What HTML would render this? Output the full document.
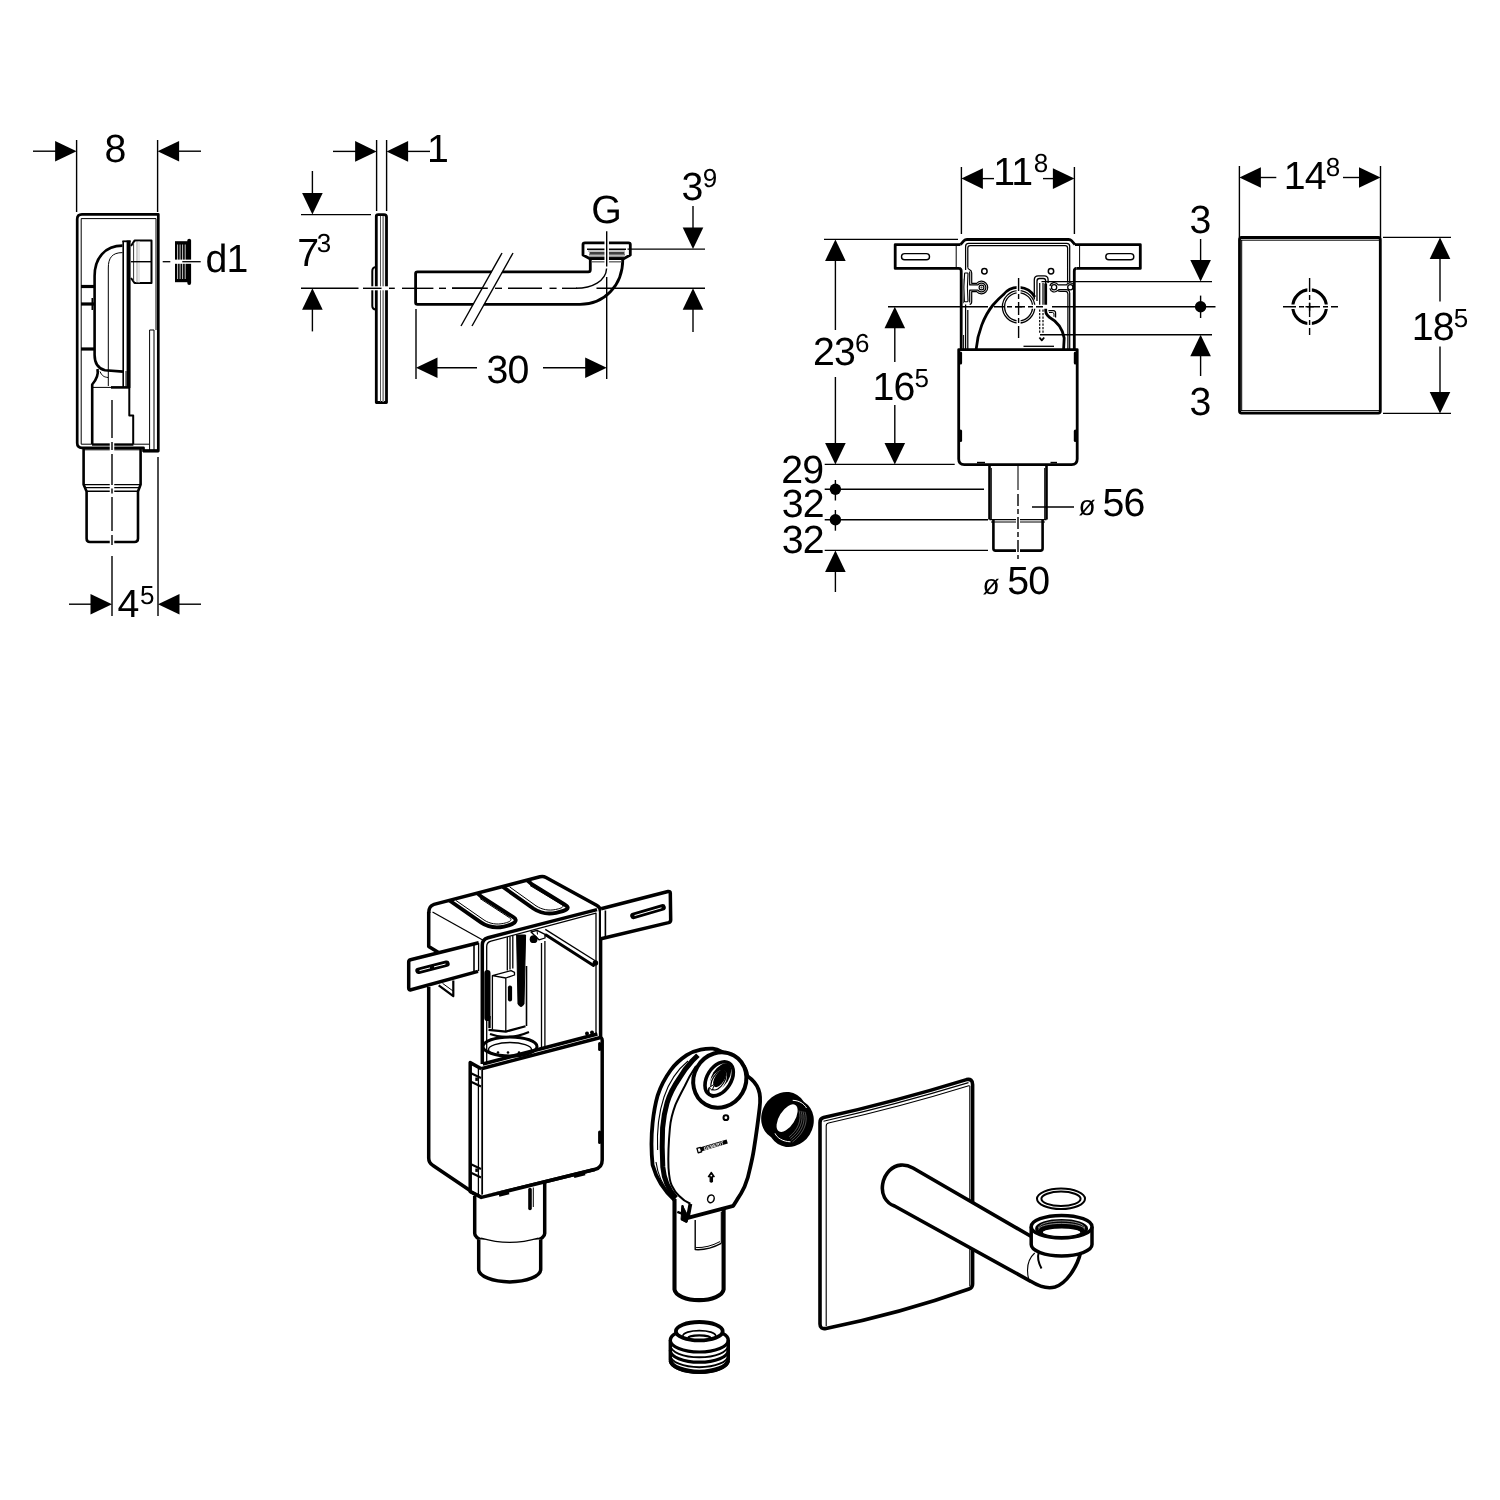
<!DOCTYPE html>
<html lang="en"><head><meta charset="utf-8"><title>Dimensional drawing</title>
<style>
html,body{margin:0;padding:0;background:#fff;}
body{width:1500px;height:1500px;overflow:hidden;}
svg{display:block;will-change:transform;}
svg text{text-rendering:geometricPrecision;font-family:"Liberation Sans",sans-serif;fill:#000;stroke:none;}
</style></head><body>
<svg width="1500" height="1500" viewBox="0 0 1500 1500" fill="none" stroke="#000" stroke-linecap="butt" stroke-linejoin="round">
<rect x="0" y="0" width="1500" height="1500" fill="#fff" stroke="none"/>
<!-- partA -->
<g>
<line x1="76.6" y1="140" x2="76.6" y2="212" stroke-width="1.4" />
<line x1="157.6" y1="140" x2="157.6" y2="212" stroke-width="1.4" />
<line x1="33" y1="151.2" x2="56" y2="151.2" stroke-width="1.4" />
<polygon points="76.6,151.2 55.1,140.9 55.1,161.5" fill="#000" stroke="none"/>
<polygon points="157.6,151.2 179.1,140.9 179.1,161.5" fill="#000" stroke="none"/>
<line x1="178" y1="151.2" x2="201" y2="151.2" stroke-width="1.4" />
<text x="104.6" y="161.6" font-size="39.3" text-anchor="start" letter-spacing="-0.85" >8</text>
<path d="M158.3,214.3 H82 Q77.2,214.3 77.2,219 V443 Q77.2,447.8 82,447.8 H143.5 V451 H158.3 Z" stroke-width="2.7" />
<path d="M156,218.6 H81.2 V444.2 H149" stroke-width="1" />
<line x1="156" y1="218.6" x2="156" y2="330" stroke-width="1" />
<line x1="149.6" y1="330" x2="149.6" y2="450" stroke-width="1" />
<line x1="154" y1="330" x2="154" y2="450" stroke-width="1" />
<line x1="149.6" y1="330" x2="154" y2="330" stroke-width="1" />
<line x1="143" y1="450.8" x2="158.6" y2="450.8" stroke-width="3.2" />
<line x1="81" y1="286.5" x2="94" y2="286.5" stroke-width="3.2" />
<line x1="81" y1="304" x2="94" y2="304" stroke-width="3.2" />
<line x1="81" y1="349" x2="94" y2="349" stroke-width="3.2" />
<line x1="92.3" y1="298" x2="92.3" y2="310" stroke-width="1.6" />
<path d="M122.5,245.6 C105,245.6 94.6,258 94.6,276 V355 C94.6,364 98,368.5 105,370.3 L123,371.6" stroke-width="2.6" />
<path d="M122.5,252.6 C112,252.6 108.3,258 108.3,268 V386" stroke-width="1" />
<line x1="123.2" y1="241" x2="123.2" y2="387" stroke-width="1.6" />
<line x1="128.6" y1="240.5" x2="128.6" y2="388" stroke-width="4" />
<line x1="122.4" y1="241.3" x2="130.6" y2="241.3" stroke-width="1.8" />
<line x1="126" y1="371" x2="126" y2="387" stroke-width="1" />
<path d="M131,246 L134.5,240.6 H151.5 V283 H134.5 L131,278" stroke-width="2" />
<line x1="133.6" y1="243" x2="133.6" y2="281" stroke-width="1" stroke="#333"/>
<line x1="137" y1="241" x2="137" y2="283" stroke-width="1" stroke="#999"/>
<line x1="139" y1="241" x2="139" y2="283" stroke-width="1" stroke="#ccc"/>
<line x1="131" y1="261.7" x2="151.5" y2="261.7" stroke-width="1.4" />
<line x1="162.7" y1="261.7" x2="170.3" y2="261.7" stroke-width="1.3" />
<rect x="175" y="241.2" width="13.2" height="41" stroke-width="0" fill="#000" stroke="none"/>
<line x1="177.6" y1="244.5" x2="177.6" y2="279" stroke-width="0.9" stroke="#ddd"/>
<line x1="180.1" y1="244.5" x2="180.1" y2="279" stroke-width="0.9" stroke="#ddd"/>
<line x1="182.6" y1="244.5" x2="182.6" y2="279" stroke-width="0.9" stroke="#ddd"/>
<line x1="185.2" y1="244.5" x2="185.2" y2="279" stroke-width="0.9" stroke="#ddd"/>
<line x1="189.2" y1="240.6" x2="189.2" y2="283" stroke-width="3.8" stroke-linecap="round"/>
<line x1="174" y1="261.7" x2="192" y2="261.7" stroke-width="4.2" stroke="#fff"/>
<line x1="182.3" y1="261.7" x2="200.7" y2="261.7" stroke-width="1.3" />
<text x="205.4" y="272.3" font-size="39.3" text-anchor="start" letter-spacing="-0.85" >d1</text>
<path d="M97.5,369 C98.5,374 97,379 92.2,384.5 V444" stroke-width="2.6" />
<path d="M100,371.5 C102,376 104,377 108,377.5" stroke-width="1" />
<line x1="92" y1="387.4" x2="112" y2="387.4" stroke-width="1" />
<line x1="111" y1="387.4" x2="129" y2="387.4" stroke-width="2.6" />
<path d="M129.3,388 V415.6 H133.2 V444" stroke-width="2" />
<line x1="92" y1="444.6" x2="133.4" y2="444.6" stroke-width="2.2" />
<path d="M83.6,449 V484.5 L86.6,491.5 V538.5 Q86.6,542 90,542 H134.5 Q138,542 138,538.5 V491.5 L140.6,484.5 V449" stroke-width="2.6" />
<line x1="83.6" y1="449.8" x2="141" y2="449.8" stroke-width="1" />
<line x1="83.6" y1="484.6" x2="140.6" y2="484.6" stroke-width="1.4" />
<line x1="85" y1="487.6" x2="139.4" y2="487.6" stroke-width="1.4" />
<line x1="86.6" y1="491.2" x2="138" y2="491.2" stroke-width="1.4" />
<line x1="112" y1="436" x2="112" y2="560" stroke-width="4.5" stroke="#fff"/>
<line x1="112" y1="400" x2="112" y2="438" stroke-width="1.4" />
<line x1="112" y1="442" x2="112" y2="450" stroke-width="1.4" />
<line x1="112" y1="454" x2="112" y2="485" stroke-width="1.4" />
<line x1="112" y1="488.5" x2="112" y2="493.5" stroke-width="1.4" />
<line x1="112" y1="497" x2="112" y2="531" stroke-width="1.4" />
<line x1="112" y1="535" x2="112" y2="545" stroke-width="1.4" />
<line x1="112" y1="556" x2="112" y2="616" stroke-width="1.4" />
<line x1="158" y1="457" x2="158" y2="616" stroke-width="1.4" />
<line x1="69" y1="604.2" x2="92" y2="604.2" stroke-width="1.4" />
<polygon points="112,604.2 90.5,593.9 90.5,614.5" fill="#000" stroke="none"/>
<polygon points="158,604.2 179.5,593.9 179.5,614.5" fill="#000" stroke="none"/>
<line x1="178" y1="604.2" x2="201" y2="604.2" stroke-width="1.4" />
<text x="117.6" y="617.3" font-size="39.3" letter-spacing="-0.85">4<tspan letter-spacing="0" font-size="26" dy="-13" dx="1.5">5</tspan></text>
</g>
<!-- partB -->
<g>
<line x1="376.6" y1="140" x2="376.6" y2="211" stroke-width="1.4" />
<line x1="386.6" y1="140" x2="386.6" y2="211" stroke-width="1.4" />
<line x1="333" y1="151.4" x2="356" y2="151.4" stroke-width="1.4" />
<polygon points="376.6,151.4 355.1,141.1 355.1,161.7" fill="#000" stroke="none"/>
<polygon points="386.6,151.4 408.1,141.1 408.1,161.7" fill="#000" stroke="none"/>
<line x1="407" y1="151.4" x2="430" y2="151.4" stroke-width="1.4" />
<text x="427" y="162.3" font-size="39.3" text-anchor="start" letter-spacing="-0.85" >1</text>
<path d="M376.3,402.5 V216.5 Q376.3,214.6 378.2,214.6 H384 Q386.5,214.6 386.5,217 V402.5 Z" stroke-width="2.8" />
<line x1="380.5" y1="216" x2="380.5" y2="402" stroke-width="1" stroke="#555"/>
<line x1="383.2" y1="216" x2="383.2" y2="402" stroke-width="1.8" stroke="#888"/>
<path d="M376,267 Q372.3,267.3 372.3,271 V306 Q372.3,309.3 376,309.6" stroke-width="2" />
<line x1="301" y1="214.6" x2="371" y2="214.6" stroke-width="1.4" />
<line x1="312.4" y1="171" x2="312.4" y2="194" stroke-width="1.4" />
<polygon points="312.4,214.6 302.1,193.1 322.7,193.1" fill="#000" stroke="none"/>
<polygon points="312.4,288.3 302.1,309.8 322.7,309.8" fill="#000" stroke="none"/>
<line x1="312.4" y1="308" x2="312.4" y2="331.4" stroke-width="1.4" />
<text x="297.2" y="265.5" font-size="39.3" letter-spacing="-0.85">7<tspan letter-spacing="0" font-size="26" dy="-14" dx="-1.5">3</tspan></text>
<line x1="370" y1="288.3" x2="392" y2="288.3" stroke-width="4" stroke="#fff"/>
<line x1="301" y1="288.3" x2="358.5" y2="288.3" stroke-width="1.4" />
<line x1="363" y1="288.3" x2="381.5" y2="288.3" stroke-width="1.4" />
<line x1="389" y1="288.3" x2="394.8" y2="288.3" stroke-width="1.4" />
<line x1="402" y1="288.3" x2="433.4" y2="288.3" stroke-width="1.4" />
<line x1="439" y1="288.3" x2="446" y2="288.3" stroke-width="1.4" />
<line x1="452" y1="288.3" x2="487.8" y2="288.3" stroke-width="1.4" />
<line x1="495" y1="288.3" x2="502" y2="288.3" stroke-width="1.4" />
<line x1="508" y1="288.3" x2="542" y2="288.3" stroke-width="1.4" />
<line x1="549.5" y1="288.3" x2="556.6" y2="288.3" stroke-width="1.4" />
<line x1="562" y1="288.3" x2="577" y2="288.3" stroke-width="1.4" />
<path d="M576,288.3 C592,288.3 606,281 606.6,268.5" stroke-width="1.4" />
<path d="M590.3,258.5 V269.7 Q590.3,271.8 588.3,271.8 H417.5 Q415.6,271.8 415.6,273.6 V302.6 Q415.6,304.4 417.5,304.4 H580 C604,304.4 622.8,286 622.8,259" stroke-width="2.8" />
<path d="M507.5,253 L466.5,326" stroke-width="9" stroke="#fff"/>
<line x1="502" y1="253" x2="461" y2="326" stroke-width="1.4" />
<line x1="513" y1="253" x2="472" y2="326" stroke-width="1.4" />
<line x1="452" y1="288.3" x2="487.8" y2="288.3" stroke-width="1.4" />
<path d="M583,244.5 Q583,242.8 585,242.8 H628.4 Q630.3,242.8 630.3,244.6 V255 L624,258.5 H589.5 L583,255 Z" stroke-width="2.8" />
<line x1="587" y1="249.3" x2="626" y2="249.3" stroke-width="1.4" />
<line x1="588" y1="251" x2="625" y2="251" stroke-width="1" stroke="#888"/>
<line x1="589.5" y1="253" x2="624.5" y2="253" stroke-width="1.4" />
<line x1="589" y1="254.8" x2="625" y2="254.8" stroke-width="1.6" stroke="#777"/>
<line x1="589" y1="256.6" x2="624" y2="256.6" stroke-width="1" stroke="#888"/>
<line x1="592" y1="261.8" x2="621.5" y2="261.8" stroke-width="1.4" stroke="#666"/>
<line x1="606.7" y1="240" x2="606.7" y2="264" stroke-width="4.5" stroke="#fff"/>
<line x1="606.7" y1="231.3" x2="606.7" y2="266.5" stroke-width="1.4" />
<line x1="606.7" y1="277" x2="606.7" y2="379" stroke-width="1.4" />
<text x="591.2" y="223" font-size="39.3" text-anchor="start" letter-spacing="-0.85" >G</text>
<line x1="627.5" y1="249.1" x2="705" y2="249.1" stroke-width="1.4" />
<line x1="596.5" y1="288.3" x2="705" y2="288.3" stroke-width="1.4" />
<line x1="693" y1="206" x2="693" y2="229" stroke-width="1.4" />
<polygon points="693,249.1 682.7,227.6 703.3,227.6" fill="#000" stroke="none"/>
<polygon points="693,288.3 682.7,309.8 703.3,309.8" fill="#000" stroke="none"/>
<line x1="693" y1="308" x2="693" y2="332" stroke-width="1.4" />
<text x="681.4" y="199.7" font-size="39.3" letter-spacing="-0.85">3<tspan letter-spacing="0" font-size="26" dy="-13" dx="0.45">9</tspan></text>
<line x1="416" y1="309" x2="416" y2="379" stroke-width="1.4" />
<polygon points="416,367.8 437.5,357.5 437.5,378.1" fill="#000" stroke="none"/>
<line x1="436" y1="367.8" x2="477" y2="367.8" stroke-width="1.4" />
<line x1="543" y1="367.8" x2="586" y2="367.8" stroke-width="1.4" />
<polygon points="606.7,367.8 585.2,357.5 585.2,378.1" fill="#000" stroke="none"/>
<text x="486.6" y="382.9" font-size="39.3" text-anchor="start" letter-spacing="-0.85" >30</text>
</g>
<!-- partC -->
<g>
<line x1="961.4" y1="167" x2="961.4" y2="234" stroke-width="1.4" />
<line x1="1074.4" y1="167" x2="1074.4" y2="234" stroke-width="1.4" />
<polygon points="961.4,178.6 982.9,168.3 982.9,188.9" fill="#000" stroke="none"/>
<line x1="981" y1="178.6" x2="994" y2="178.6" stroke-width="1.4" />
<line x1="1043" y1="178.6" x2="1055" y2="178.6" stroke-width="1.4" />
<polygon points="1074.4,178.6 1052.9,168.3 1052.9,188.9" fill="#000" stroke="none"/>
<text x="993.2" y="185" font-size="39.3" letter-spacing="-0.85">11<tspan letter-spacing="0" font-size="26" dy="-13" dx="1.4">8</tspan></text>
<line x1="824" y1="239.4" x2="958" y2="239.4" stroke-width="1.4" />
<polygon points="835.4,239.4 825.1,260.9 845.7,260.9" fill="#000" stroke="none"/>
<line x1="835.4" y1="259" x2="835.4" y2="330" stroke-width="1.4" />
<line x1="835.4" y1="377" x2="835.4" y2="445" stroke-width="1.4" />
<polygon points="835.4,464.4 825.1,442.9 845.7,442.9" fill="#000" stroke="none"/>
<text x="813.1" y="365.4" font-size="39.3" letter-spacing="-0.85">23<tspan letter-spacing="0" font-size="26" dy="-13" dx="0">6</tspan></text>
<line x1="888" y1="306.7" x2="988" y2="306.7" stroke-width="1.4" />
<polygon points="894.8,306.7 884.5,328.2 905.1,328.2" fill="#000" stroke="none"/>
<line x1="894.8" y1="326" x2="894.8" y2="362" stroke-width="1.4" />
<line x1="894.8" y1="405" x2="894.8" y2="445" stroke-width="1.4" />
<polygon points="894.8,464.4 884.5,442.9 905.1,442.9" fill="#000" stroke="none"/>
<text x="872.4" y="400.3" font-size="39.3" letter-spacing="-0.85">16<tspan letter-spacing="0" font-size="26" dy="-13" dx="0.1">5</tspan></text>
<line x1="824.7" y1="464.4" x2="954.7" y2="464.4" stroke-width="1.4" />
<line x1="824.7" y1="489.3" x2="984" y2="489.3" stroke-width="1.4" />
<line x1="824.7" y1="519.8" x2="988" y2="519.8" stroke-width="1.4" />
<line x1="824.7" y1="550.4" x2="988" y2="550.4" stroke-width="1.4" />
<circle cx="835.4" cy="489.3" r="5.7" stroke-width="0" fill="#000" stroke="none"/>
<circle cx="835.4" cy="519.8" r="5.7" stroke-width="0" fill="#000" stroke="none"/>
<line x1="835.4" y1="480" x2="835.4" y2="500.5" stroke-width="1.4" />
<line x1="835.4" y1="510" x2="835.4" y2="530.7" stroke-width="1.4" />
<polygon points="835.4,550.4 825.1,571.9 845.7,571.9" fill="#000" stroke="none"/>
<line x1="835.4" y1="570" x2="835.4" y2="592" stroke-width="1.4" />
<text x="781.2" y="483.4" font-size="39.3" text-anchor="start" letter-spacing="-0.85" >29</text>
<text x="781.7" y="517.2" font-size="39.3" text-anchor="start" letter-spacing="-0.85" >32</text>
<text x="781.7" y="553.2" font-size="39.3" text-anchor="start" letter-spacing="-0.85" >32</text>
<path d="M960.5,244.6 H895.2 V268.4 H959" stroke-width="2.8" />
<line x1="956.2" y1="244.6" x2="956.2" y2="268.4" stroke-width="1" />
<rect x="901.5" y="253.6" width="28" height="6.2" stroke-width="1.4" rx="3.1"/>
<path d="M1075,244.6 H1140.3 V268.4 H1076.5" stroke-width="2.8" />
<line x1="1079.6" y1="244.6" x2="1079.6" y2="268.4" stroke-width="1" />
<rect x="1105.8" y="253.6" width="28" height="6.2" stroke-width="1.4" rx="3.1"/>
<path d="M959,268.4 Q961.2,268.6 961.2,271 V349 M960.5,244.6 L964,240.6 Q965,239.5 967,239.5 H1068.5 Q1070.5,239.5 1071.5,240.6 L1075,244.6 M1076.5,268.4 Q1074.3,268.6 1074.3,271 V349" stroke-width="2.8" />
<path d="M965.6,270 V246.5 Q965.6,243.4 968.7,243.4 H1066.6 Q1069.7,243.4 1069.7,246.5 V283 M1069.7,293 V349 M965.6,304.5 V349" stroke-width="1.25" />
<path d="M967.8,267.5 V248 Q967.8,245.6 970.2,245.6 H1065.2 Q1067.6,245.6 1067.6,248 V283 M1067.9,294 V349" stroke-width="1.25" />
<line x1="967.8" y1="310" x2="967.8" y2="349" stroke-width="1.25" />
<line x1="963.6" y1="335" x2="963.6" y2="349" stroke-width="1" />
<circle cx="984.4" cy="271.2" r="2.7" stroke-width="1.5" />
<circle cx="1051" cy="271.2" r="2.7" stroke-width="1.5" />
<path d="M967.8,267.5 Q968,269 969.4,269.5 Q971.7,270.5 971.7,273 V283.3 H976.7 A6.3,6.3 0 1 1 976.7,291.7 H971.7 V301.4 Q971.7,304 969.6,304.4" stroke-width="1.2" />
<path d="M969.7,271.5 V284.9 H977.9 A4.4,4.4 0 1 1 977.9,290.1 H969.7 V302.6" stroke-width="1.2" />
<circle cx="981.5" cy="287.5" r="2.4" stroke-width="1.2" />
<circle cx="981.5" cy="287.5" r="0.6" stroke-width="0.8" />
<path d="M964.6,273.6 Q964.5,273 965.1,273 H967.4 Q968,273 968,273.6 Q966.8,287.5 968,301.1 Q968,301.7 967.4,301.7 H965 Q964.4,301.7 964.4,301 Q963.2,287.5 964.6,273.6 Z" stroke-width="1.1" />
<path d="M962.9,278.7 Q962.3,291 963.6,303.3" stroke-width="1.1" stroke="#555"/>
<circle cx="1018.6" cy="306.8" r="16.2" stroke-width="1.3" />
<circle cx="1018.6" cy="306.8" r="14" stroke-width="1.3" />
<path d="M976.2,349 C977.5,333 984,316 993,305 C997,300.5 1000,297.5 1003.2,294.8 A19,19 0 0 1 1034.8,297" stroke-width="2.8" />
<path d="M1045.7,283.6 V311 Q1045.7,313.4 1047.4,315.2 L1049.4,317.3 C1057,321.5 1062.5,329 1064.2,338 L1063.6,349" stroke-width="2.8" />
<path d="M1048.4,310.6 H1053.4 Q1055.6,310.8 1055.6,313 V317.6" stroke-width="1.2" />
<path d="M1049,312.5 H1052.6 Q1054,312.7 1054,314 V316.8" stroke-width="1" />
<path d="M1034.3,299.5 V279.8 Q1034.3,275.8 1038.3,275.8 H1044.2 Q1048.1,275.8 1048.1,279.8 V283" stroke-width="1.3" />
<path d="M1037,301 V281 Q1037,278.5 1039.5,278.5 H1043.3 Q1045.7,278.5 1045.7,281 V284" stroke-width="1.3" />
<line x1="1039.7" y1="283" x2="1039.7" y2="306" stroke-width="1.2" />
<line x1="1043" y1="283" x2="1043" y2="306" stroke-width="1.2" />
<line x1="1039.7" y1="309.4" x2="1039.7" y2="333.6" stroke-width="1.2" stroke-dasharray="2.4 1.1"/>
<line x1="1043" y1="309.4" x2="1043" y2="333.6" stroke-width="1.2" stroke-dasharray="2.4 1.1"/>
<path d="M1039.4,337.5 L1041.8,340.3 L1044.2,337.5" stroke-width="1.8" />
<rect x="1064.5" y="282.6" width="8" height="9.4" stroke-width="0" fill="#fff" stroke="none"/>
<path d="M1049.9,286 A4.4,4.4 0 0 1 1058,284.8 H1066.4 A4.4,4.4 0 0 1 1073.2,284.2" stroke-width="1.2" />
<path d="M1049.9,288.4 A4.4,4.4 0 0 0 1057.6,290.4 Q1058.6,291.4 1060.5,291.4 H1065.4 Q1067.9,291.6 1067.9,294" stroke-width="1.2" />
<path d="M1058.2,289.6 H1066 Q1069.7,289.8 1069.7,293" stroke-width="1.1" />
<circle cx="1054.1" cy="287.2" r="2.6" stroke-width="1.3" />
<circle cx="1070.3" cy="287.2" r="2.6" stroke-width="1.3" />
<line x1="1023.5" y1="346.3" x2="1054" y2="346.3" stroke-width="1.3" />
<line x1="1016" y1="306.8" x2="1052" y2="306.8" stroke-width="4" stroke="#fff"/>
<line x1="1018.6" y1="281" x2="1018.6" y2="336" stroke-width="4" stroke="#fff"/>
<line x1="1041.5" y1="281.6" x2="1212" y2="281.6" stroke-width="1.4" />
<line x1="1052" y1="306.7" x2="1215.5" y2="306.7" stroke-width="1.4" />
<line x1="1040" y1="334.7" x2="1212" y2="334.7" stroke-width="1.4" />
<line x1="1018.6" y1="278" x2="1018.6" y2="338" stroke-width="1.4" stroke-dasharray="13 3 5 3"/>
<line x1="994" y1="306.7" x2="1043" y2="306.7" stroke-width="1.4" stroke-dasharray="10 3 5 3"/>
<line x1="1015" y1="306.7" x2="1022.2" y2="306.7" stroke-width="1.4" />
<circle cx="1200.6" cy="306.7" r="5.7" stroke-width="0" fill="#000" stroke="none"/>
<line x1="1200.6" y1="295.6" x2="1200.6" y2="318" stroke-width="1.4" />
<line x1="1200.6" y1="239" x2="1200.6" y2="262" stroke-width="1.4" />
<polygon points="1200.6,281.6 1190.3,260.1 1210.9,260.1" fill="#000" stroke="none"/>
<polygon points="1200.6,334.7 1190.3,356.2 1210.9,356.2" fill="#000" stroke="none"/>
<line x1="1200.6" y1="354" x2="1200.6" y2="376" stroke-width="1.4" />
<text x="1189.4" y="232.6" font-size="39.3" text-anchor="start" letter-spacing="-0.85" >3</text>
<text x="1189.4" y="415.4" font-size="39.3" text-anchor="start" letter-spacing="-0.85" >3</text>
<path d="M958.7,349.6 H1077.2 V459 Q1077.2,464.6 1071.6,464.6 H964.3 Q958.7,464.6 958.7,459 Z" stroke-width="2.8" fill="#fff"/>
<line x1="960.6" y1="353" x2="960.6" y2="363" stroke-width="3" stroke-linecap="round"/>
<line x1="1075.3" y1="353" x2="1075.3" y2="363" stroke-width="3" stroke-linecap="round"/>
<line x1="960.6" y1="431" x2="960.6" y2="440.5" stroke-width="3" stroke-linecap="round"/>
<line x1="1075.3" y1="431" x2="1075.3" y2="440.5" stroke-width="3" stroke-linecap="round"/>
<line x1="977" y1="462.6" x2="985" y2="462.6" stroke-width="1.6" />
<line x1="1050.5" y1="462.6" x2="1057" y2="462.6" stroke-width="1.6" />
<path d="M989.5,465 V519.5 M1046.5,465 V519.5" stroke-width="2.6" />
<path d="M991.3,468 V519 M1044.7,468 V519" stroke-width="1" />
<path d="M993.4,519.5 V548.5 Q993.4,550.6 995.5,550.6 H1040.5 Q1042.6,550.6 1042.6,548.5 V519.5" stroke-width="2.6" />
<line x1="989.5" y1="519.6" x2="1046.5" y2="519.6" stroke-width="1.4" />
<line x1="991" y1="522" x2="1045" y2="522" stroke-width="1" />
<line x1="1018" y1="466" x2="1018" y2="490" stroke-width="1.6" stroke="#555"/>
<line x1="1018" y1="494" x2="1018" y2="560" stroke-width="4" stroke="#fff"/>
<line x1="1018" y1="494" x2="1018" y2="559" stroke-width="1.4" stroke-dasharray="12 3 5 3"/>
<line x1="1032" y1="507" x2="1074" y2="507" stroke-width="1.4" />
<text x="1078.5" y="515" font-size="28" text-anchor="start" letter-spacing="0" >ø</text>
<text x="1102.4" y="515.7" font-size="39.3" text-anchor="start" letter-spacing="-0.85" >56</text>
<text x="982.6" y="593.6" font-size="28" text-anchor="start" letter-spacing="0" >ø</text>
<text x="1007.2" y="594.3" font-size="39.3" text-anchor="start" letter-spacing="-0.85" >50</text>
</g>
<!-- partD -->
<g>
<line x1="1239.4" y1="166" x2="1239.4" y2="237" stroke-width="1.4" />
<line x1="1380.5" y1="166" x2="1380.5" y2="237" stroke-width="1.4" />
<polygon points="1239.4,177.5 1260.9,167.2 1260.9,187.8" fill="#000" stroke="none"/>
<line x1="1259" y1="177.5" x2="1276.3" y2="177.5" stroke-width="1.4" />
<line x1="1343" y1="177.5" x2="1361" y2="177.5" stroke-width="1.4" />
<polygon points="1380.5,177.5 1359.0,167.2 1359.0,187.8" fill="#000" stroke="none"/>
<text x="1283.7" y="188.7" font-size="39.3" letter-spacing="-0.85">14<tspan letter-spacing="0" font-size="26" dy="-13" dx="0">8</tspan></text>
<rect x="1239.5" y="237.5" width="140.8" height="175.6" stroke-width="2.8" rx="2"/>
<line x1="1241" y1="240.2" x2="1379" y2="240.2" stroke-width="1" />
<line x1="1241" y1="410.6" x2="1379" y2="410.6" stroke-width="1" />
<line x1="1241.7" y1="240" x2="1241.7" y2="411" stroke-width="1" />
<circle cx="1309.6" cy="306.7" r="16.8" stroke-width="3.1" />
<line x1="1283" y1="306.7" x2="1338" y2="306.7" stroke-width="4.5" stroke="#fff"/>
<line x1="1309.6" y1="278" x2="1309.6" y2="335" stroke-width="4.5" stroke="#fff"/>
<line x1="1283" y1="306.7" x2="1338" y2="306.7" stroke-width="1.4" stroke-dasharray="13 3 5 3"/>
<line x1="1309.6" y1="278" x2="1309.6" y2="335" stroke-width="1.4" stroke-dasharray="14 3 5 3"/>
<line x1="1305.5" y1="306.7" x2="1313.7" y2="306.7" stroke-width="1.4" />
<line x1="1309.6" y1="302.6" x2="1309.6" y2="310.8" stroke-width="1.4" />
<line x1="1383" y1="237.4" x2="1451" y2="237.4" stroke-width="1.4" />
<line x1="1383" y1="413.4" x2="1451" y2="413.4" stroke-width="1.4" />
<polygon points="1440,237.4 1429.7,258.9 1450.3,258.9" fill="#000" stroke="none"/>
<line x1="1440" y1="257" x2="1440" y2="301.5" stroke-width="1.4" />
<line x1="1440" y1="346.5" x2="1440" y2="394" stroke-width="1.4" />
<polygon points="1440,413.4 1429.7,391.9 1450.3,391.9" fill="#000" stroke="none"/>
<text x="1411.7" y="339.7" font-size="39.3" letter-spacing="-0.85">18<tspan letter-spacing="0" font-size="26" dy="-13" dx="0">5</tspan></text>
</g>
<!-- partE -->
<g>
<path d="M428.7,913 Q428.7,906 434,904.4 L540,876.8 Q543.3,876 546,877.5 L597,905.5 Q600.6,907.6 600.6,912 V1037" stroke-width="3.5" />
<path d="M428.7,912 V946.5 L438.5,952.6" stroke-width="3.5" />
<path d="M428.7,987 V1158 Q428.7,1163 433,1165.5 L470,1190.5" stroke-width="3.5" />
<line x1="432.5" y1="912" x2="482.7" y2="940" stroke-width="1.3" />
<path d="M482.3,1064 V945 Q482.3,939.2 488,937.7 L597,909.6" stroke-width="3.5" />
<path d="M486.7,1062 V946.5 Q486.7,942.3 491,941.2 L596,913.2 V1034" stroke-width="1.3" />
<path d="M449.5,900.5 L481.3,922.7 C488,927.2 496,928.3 504,926.6 C514,924.5 519,920.8 513.3,917.2 L481.3,896.6 L477.5,893.2" stroke-width="3.9" />
<path d="M456,900.5 L484,920 C490,924 497,924.8 503.5,923.4 C510,922 513,920 509.5,917.7 L480,898.5" stroke-width="1" />
<path d="M503,887 L533.3,908.5 C540,913 548,914.6 556,912.8 C566,910.6 571,908.3 565.3,905 L531.3,883.8 L527.5,880.6" stroke-width="3.9" />
<path d="M509.5,886.8 L536,905.8 C542,909.8 549,910.9 555.5,909.5 C562,908.2 565,906.6 561.5,904.4 L530,885.5" stroke-width="1" />
<path d="M478.7,942.8 L410.5,959.7 Q408.7,960.2 408.7,962 V988 Q408.7,990.4 411,989.8 L478,971.4" stroke-width="3.5" fill="#fff"/>
<line x1="474" y1="944.5" x2="474" y2="972.2" stroke-width="1.6" />
<line x1="478.6" y1="943" x2="478.6" y2="971.2" stroke-width="1.3" />
<line x1="418.5" y1="970.8" x2="446.5" y2="963.7" stroke-width="6.4" stroke-linecap="round"/>
<line x1="419.5" y1="970.6" x2="430" y2="967.9" stroke-width="1" stroke="#fff"/>
<line x1="434" y1="966.9" x2="445.5" y2="964" stroke-width="1" stroke="#fff"/>
<path d="M438.7,985.4 L453.3,996.2 V980.5" stroke-width="2.2" />
<line x1="442.5" y1="983.3" x2="453" y2="991" stroke-width="1" />
<path d="M601,908.8 L668,891.5 Q670.2,891 670.3,893 L670.7,920 Q670.7,922 668.6,922.6 L601,938.8" stroke-width="3.5" fill="#fff"/>
<line x1="605.4" y1="910.5" x2="605.4" y2="937.2" stroke-width="1.6" />
<line x1="633.5" y1="915.8" x2="662.5" y2="907.4" stroke-width="6.6" stroke-linecap="round"/>
<line x1="634.5" y1="915.6" x2="661.5" y2="907.8" stroke-width="1" stroke="#fff"/>
<line x1="545.3" y1="929.4" x2="596" y2="961.2" stroke-width="1.3" />
<line x1="546" y1="935" x2="593.5" y2="965.5" stroke-width="3" stroke-linecap="round"/>
<line x1="541.5" y1="943" x2="541.5" y2="1047.5" stroke-width="1.3" />
<line x1="544.9" y1="941" x2="544.9" y2="1046.6" stroke-width="1.3" />
<circle cx="533.6" cy="939.2" r="3.9" stroke-width="0" fill="#000" stroke="none"/>
<path d="M531,932 L537,930.4 L545,934.4 L545,938 L539,939.8 Z" stroke-width="1.3" />
<line x1="537" y1="930.4" x2="537.5" y2="934.5" stroke-width="1" />
<path d="M516.6,935 L518,1004 Q521,1009 524,1004 L525.6,935 Z" stroke-width="1" fill="#000"/>
<line x1="526.5" y1="966" x2="526.5" y2="1026" stroke-width="1.6" />
<line x1="487.4" y1="973" x2="487.4" y2="1018" stroke-width="6.2" stroke-linecap="round"/>
<line x1="489.5" y1="1016" x2="489.5" y2="1028" stroke-width="2.4" />
<line x1="507.3" y1="937" x2="507.3" y2="970.5" stroke-width="1.3" />
<line x1="510" y1="936.3" x2="510" y2="969.5" stroke-width="1.3" />
<line x1="512.8" y1="935.6" x2="512.8" y2="968.6" stroke-width="1.3" />
<path d="M492.4,1029.6 V975.6 L511,970.6 L514.5,972.4 V975 L505.8,978 L492.4,975.6 M505.8,978 V1031.2" stroke-width="1.3" />
<path d="M488.5,1029.8 L505.8,1031.6 L525.5,1026.2" stroke-width="2.2" />
<line x1="510" y1="987.5" x2="510" y2="999.5" stroke-width="4.2" stroke-linecap="round"/>
<ellipse cx="510" cy="1046.5" rx="27" ry="9.6" stroke-width="3" />
<ellipse cx="510" cy="1049.5" rx="21.5" ry="7" stroke-width="1.4" />
<path d="M490,1034 Q508,1041 529,1032" stroke-width="2" />
<circle cx="498" cy="1052.5" r="1.3" stroke-width="0" fill="#000" stroke="none"/>
<circle cx="508" cy="1052.5" r="1.3" stroke-width="0" fill="#000" stroke="none"/>
<circle cx="519" cy="1052.5" r="1.3" stroke-width="0" fill="#000" stroke="none"/>
<path d="M481.3,1068.7 L599.6,1037.8 Q602.2,1037.6 602.2,1040.4 V1160 Q602.2,1167.8 594.6,1169.5 L481.3,1197.4 Z" stroke-width="3.5" fill="#fff"/>
<line x1="482.8" y1="1064" x2="597.4" y2="1034" stroke-width="3.5" />
<path d="M481.3,1068.7 L470.2,1062.6 V1191.5 L481.3,1197.4" stroke-width="3.5" fill="#fff"/>
<line x1="478.4" y1="1068" x2="478.4" y2="1195.5" stroke-width="1.3" />
<path d="M470.5,1073 L481,1078 M470.5,1081.5 L481,1086.5" stroke-width="2" />
<rect x="475.3" y="1077.5" width="2.6" height="3.4" stroke-width="0" fill="#000" stroke="none"/>
<path d="M470.5,1164 L481,1169 M470.5,1172.5 L481,1177.5" stroke-width="2" />
<rect x="475.3" y="1168.5" width="2.6" height="3.4" stroke-width="0" fill="#000" stroke="none"/>
<line x1="599.6" y1="1043.5" x2="599.6" y2="1049.5" stroke-width="3" stroke-linecap="round"/>
<line x1="599.6" y1="1132" x2="599.6" y2="1142.5" stroke-width="3" stroke-linecap="round"/>
<circle cx="595.4" cy="963" r="2.8" stroke-width="0" fill="#000" stroke="none"/>
<circle cx="587" cy="1033.6" r="2" stroke-width="0" fill="#000" stroke="none"/>
<circle cx="592" cy="1032.4" r="2" stroke-width="0" fill="#000" stroke="none"/>
<path d="M474.7,1196 V1233.5 A35,11 0 0 0 544.7,1233.5 V1183" stroke-width="3.5" fill="#fff"/>
<path d="M478.7,1239.6 V1269.3 A31,12.6 0 0 0 540.7,1269.3 V1239.6" stroke-width="3.5" fill="#fff"/>
<path d="M481,1238.2 Q509.6,1246.6 538.5,1238.2" stroke-width="1.3" />
<line x1="530" y1="1189.5" x2="530" y2="1208.5" stroke-width="3.6" stroke-linecap="round"/>
<line x1="533.3" y1="1187.5" x2="533.3" y2="1207" stroke-width="1" />
<path d="M470.2,1191.5 L481.3,1197.4 L594.6,1169.5" stroke-width="3.5" />
<line x1="499" y1="1195.2" x2="509" y2="1192.7" stroke-width="3.4" />
<line x1="574" y1="1176.3" x2="585" y2="1173.5" stroke-width="3.4" />
</g>
<!-- partF -->
<g>
<path d="M674.5,1199 V1289.5 A24.6,11.3 0 0 0 723.6,1289.5 V1208" stroke-width="4.1" fill="#fff"/>
<path d="M695.2,1220 V1249.6 Q708,1250.5 721.2,1243.4" stroke-width="1.4" />
<path d="M696,1247.6 Q708,1248 720,1241.6" stroke-width="1" />
<line x1="721.3" y1="1212" x2="721.3" y2="1243.5" stroke-width="1.1" />
<path d="M674.5,1200 C665,1191.5 656.8,1180 652.6,1165 C651,1150 651.2,1136 652.6,1123 C654,1110 655.5,1103 657.7,1095.3 C661,1085 665,1078 670.8,1070 C676,1063 681,1059 686.7,1055.2 C691,1052.5 696,1050.5 700.7,1049.6 C705,1048.8 709,1048.5 712.8,1048.7 C716,1049 719,1050.3 722,1052 L738,1060.8 C741.5,1063 744,1066 745.5,1069.2 C746.5,1071.5 747,1073.5 747.3,1075.7" stroke-width="3.8" fill="#fff"/>
<path d="M657.6,1150 C656.8,1132 659,1112 664,1097 C669,1082 677,1070 688,1061" stroke-width="1.1" />
<path d="M656,1162 C658,1176 663,1186 670,1193.5" stroke-width="1.1" />
<path d="M696,1066 C690,1075 687,1081 684.8,1086 C680,1095 677.5,1100 675.5,1104.7 C672,1114 670.5,1121 669.9,1128 C668.6,1142 668,1156 668.5,1168 C669.2,1178 670.5,1183 671.7,1185.5 C674,1190.5 676.5,1193.6 679.2,1196 C682.5,1199.5 686,1202 690.4,1203.8 L687.8,1217.8 L733.3,1205.8 L737.1,1199.7 C740,1195.5 742.5,1191 744.5,1186.7 C747,1181 748.8,1175 750.1,1168 C752,1160 753.2,1154 753.9,1149.3 C756,1136 758,1122 759.6,1108 C760.6,1100 760.2,1094 758.5,1089.5 C756.5,1084 752.5,1079.5 747.3,1076 Z" stroke-width="0" fill="#fff" stroke="none"/>
<path d="M676,1198 C668.5,1190 664,1180 662.8,1167 C662,1152 662,1140 662.6,1128 C663.4,1118 665,1110 667.1,1102.8 C670,1093 674,1086 679.2,1078.5 C683,1072 687.5,1066 692.3,1060.8 L697.9,1055.2" stroke-width="5" />
<path d="M696,1066 C690,1075 687,1081 684.8,1086 C680,1095 677.5,1100 675.5,1104.7 C672,1114 670.5,1121 669.9,1128 C668.6,1142 668,1156 668.5,1168 C669.2,1178 670.5,1183 671.7,1185.5 C674,1190.5 676.5,1193.6 679.2,1196 C682.5,1199.5 686,1202 690.4,1203.8" stroke-width="2" />
<path d="M690.4,1203.8 L687.8,1217.8 L733.3,1205.8 L737.1,1199.7 C740,1195.5 742.5,1191 744.5,1186.7 C747,1181 748.8,1175 750.1,1168 C752,1160 753.2,1154 753.9,1149.3 C756,1136 758,1122 759.6,1108 C760.6,1100 760.2,1094 758.5,1089.5 C756.5,1084 752.5,1079.5 747.3,1076" stroke-width="3.8" />
<path d="M677.3,1211.8 L682,1213.6 L682.6,1205.5 M681.2,1219 L686.8,1222" stroke-width="2.4" />
<path d="M682.3,1205 L681,1219.5 L687,1222.4 L688.5,1217 Z" stroke-width="1" fill="#000"/>
<ellipse cx="719.8" cy="1080" rx="26" ry="28.3" stroke-width="4.0" transform="rotate(30 719.8 1080)" fill="#fff"/>
<ellipse cx="719.3" cy="1078.8" rx="12" ry="18.6" stroke-width="3.5999999999999996" transform="rotate(32 719.3 1078.5)" fill="#fff"/>
<ellipse cx="720.8" cy="1077" rx="8.4" ry="15" stroke-width="0" transform="rotate(32 721 1076.5)" fill="#000" stroke="none"/>
<ellipse cx="717.8" cy="1081.4" rx="7.2" ry="12.8" stroke-width="0" transform="rotate(32 717.6 1081.6)" fill="#fff" stroke="none"/>
<ellipse cx="718.6" cy="1080.2" rx="5.8" ry="11" stroke-width="1.2" transform="rotate(32 718.6 1080)"/>
<ellipse cx="719.8" cy="1078.6" rx="4" ry="8.8" stroke-width="1.6" transform="rotate(32 719.8 1078.3)" fill="#000"/>
<path d="M709.2,1087.6 L714.6,1084 L712.2,1090.4 Z" stroke-width="1" fill="#fff"/>
<path d="M709,1087.8 C708,1092 709.5,1096 713.5,1097.6" stroke-width="1.6" />
<circle cx="725.9" cy="1117.7" r="2.4" stroke-width="2" />
<line x1="699.5" y1="1149.8" x2="727.2" y2="1141.5" stroke-width="4.2" />
<rect x="697.5" y="1147.8" width="3.6" height="4.6" stroke-width="1.3" fill="#fff" transform="rotate(-16 699.3 1150.1)"/>
<path d="M711.3,1172.4 L708.4,1176.6 H710.2 V1181.6 Q711.3,1182.6 712.4,1181.6 V1176.6 H714.2 Z" stroke-width="1.3" fill="#000"/>
<circle cx="711.3" cy="1175.6" r="0.9" stroke-width="0" fill="#fff" stroke="none"/>
<ellipse cx="710.9" cy="1198.8" rx="3.2" ry="3.9" stroke-width="1.5" transform="rotate(20 710.9 1198.8)"/>
<text x="713.6" y="1147.3" font-size="4.6" text-anchor="middle" letter-spacing="0" font-weight="bold" transform="rotate(-16.6 713.6 1145.6)" style="fill:#fff">GEBERIT</text>
<ellipse cx="784" cy="1116" rx="22" ry="24.8" stroke-width="0" fill="#000" stroke="none" transform="rotate(32 784 1116)"/>
<ellipse cx="791" cy="1123" rx="22" ry="24.8" stroke-width="0" fill="#000" stroke="none" transform="rotate(32 791 1123)"/>
<ellipse cx="787.1" cy="1118.1" rx="7.8" ry="15.5" stroke-width="0" fill="#fff" stroke="none" transform="rotate(32 787.1 1118.1)"/>
<path d="M792.7,1100.3 C799,1100.5 804,1103.5 806.5,1108" stroke-width="1" stroke="#fff"/>
<path d="M775,1133.3 C777,1138 783,1141.6 790.5,1141.8" stroke-width="1" stroke="#fff"/>
<path d="M798.98,1110.44 C802.2,1119.88 797.76,1130.32 789.1,1136.76" stroke-width="0.7" stroke="#777"/>
<path d="M800.96,1110.88 C804.4,1120.76 799.52,1131.64 790.2,1138.52" stroke-width="0.7" stroke="#777"/>
<path d="M802.94,1111.32 C806.6,1121.64 801.28,1132.96 791.3,1140.28" stroke-width="0.7" stroke="#777"/>
<path d="M804.92,1111.76 C808.8,1122.52 803.04,1134.28 792.4,1142.04" stroke-width="0.7" stroke="#777"/>
<path d="M675.5,1333.5 C671.5,1335.5 670.3,1337.5 670.3,1340.5 V1360 A29,12.4 0 0 0 728.3,1360 V1340.5 C728.3,1337.5 727,1335.5 723,1333.5" stroke-width="3.4" fill="#fff" stroke-linecap="round"/>
<path d="M670.3,1340 A29,12 0 0 0 728.3,1340" stroke-width="3.2" />
<path d="M670.3,1345.3 A29,12 0 0 0 728.3,1345.3" stroke-width="1.9" />
<path d="M670.3,1350.2 A29,12 0 0 0 728.3,1350.2" stroke-width="3.2" />
<path d="M670.3,1355.2 A29,12 0 0 0 728.3,1355.2" stroke-width="1.9" />
<path d="M670.6,1360.6 A28.8,12.2 0 0 0 728,1360.6" stroke-width="4.2" />
<ellipse cx="699.3" cy="1331.2" rx="23.4" ry="9.2" stroke-width="3.8" fill="#fff"/>
<ellipse cx="699.3" cy="1335.8" rx="16.4" ry="5.2" stroke-width="1.6" />
<ellipse cx="699.3" cy="1338" rx="11" ry="2.6" stroke-width="2.2" />
</g>
<!-- partG -->
<g>
<path d="M820,1324 V1122.5 Q820,1118.6 823.6,1117.6 Q895,1101.6 966.5,1079.6 Q972.6,1078.4 972.6,1084.5 V1284 Q972.6,1288 969,1289 Q900,1313.6 826,1328.4 Q820,1329.6 820,1324 Z" stroke-width="3.6" fill="#fff"/>
<path d="M826.2,1326 V1126 Q826.2,1123.6 828.5,1123 Q898,1107.6 969.6,1085.5" stroke-width="1.1" />
<path d="M823.5,1121.3 Q896,1104.6 968.5,1082.6" stroke-width="1.1" />
<line x1="969.8" y1="1086" x2="969.8" y2="1286" stroke-width="1.1" />
<path d="M913,1168 C905,1163.5 896,1164 889.5,1170.5 C882,1178 880.5,1190 884.5,1197.5 C887,1202 890,1204.5 894.5,1206 L1030.7,1281.3 C1040,1287 1048,1289 1055,1287 C1066,1283.5 1077,1268 1080.7,1252 L1031.3,1236.5 Z" stroke-width="3.6" fill="#fff"/>
<path d="M1034.7,1253 C1028,1259 1026,1268 1028.7,1279.5" stroke-width="1.1" />
<path d="M1038.7,1252.5 C1037,1258 1038.5,1263 1041.5,1268.5" stroke-width="2" />
<path d="M905,1164.5 C908,1165.5 911,1167 913.5,1168.5" stroke-width="1.2" />
<path d="M1031.2,1226.7 V1244.6 A30.4,11.3 0 0 0 1092,1244.6 V1226.7" stroke-width="3.5" fill="#fff"/>
<ellipse cx="1061.6" cy="1226.7" rx="30.4" ry="11.3" stroke-width="3.5" fill="#fff"/>
<ellipse cx="1061.6" cy="1228.8" rx="25" ry="8.2" stroke-width="3" fill="#000"/>
<ellipse cx="1061.6" cy="1232.3" rx="19.4" ry="4.4" stroke-width="1.4" fill="#fff"/>
<path d="M1038.6,1228 A23,7 0 0 1 1084.6,1228" stroke-width="0.8" stroke="#aaa"/>
<path d="M1038.6,1229.4 A23,6 0 0 1 1084.6,1229.4" stroke-width="0.8" stroke="#aaa"/>
<ellipse cx="1061" cy="1198.8" rx="24" ry="10.2" stroke-width="2" />
<ellipse cx="1061" cy="1198.8" rx="19.6" ry="7.2" stroke-width="2" />
</g>
</svg>
</body></html>
